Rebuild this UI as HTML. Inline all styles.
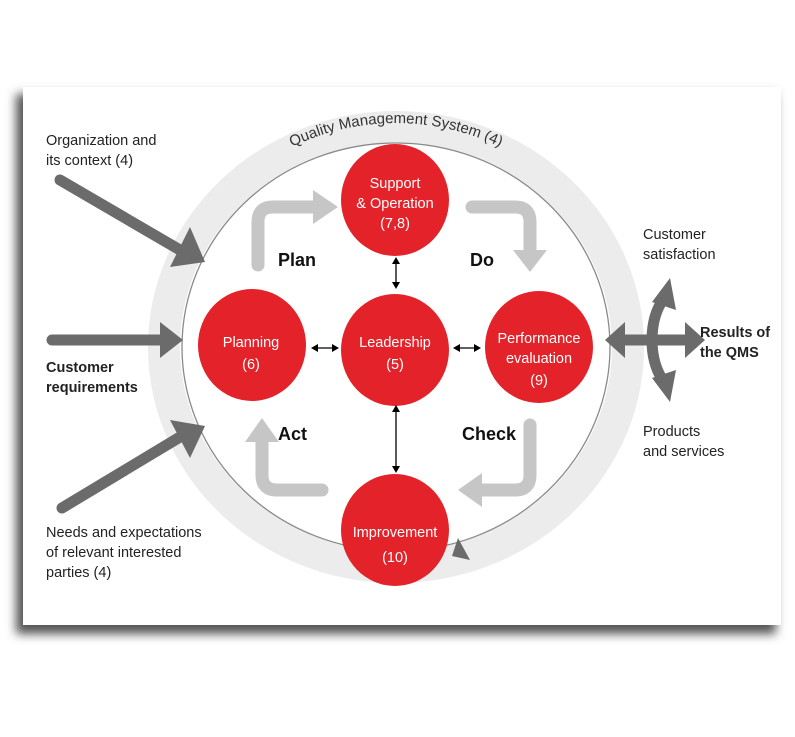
<!DOCTYPE html>
<html><head><meta charset="utf-8"><style>
html,body{margin:0;padding:0;background:#fff;width:795px;height:737px;overflow:hidden}
svg{display:block;font-family:"Liberation Sans",sans-serif}
</style></head><body>
<svg width="795" height="737" viewBox="0 0 795 737">
<defs>
<filter id="sh" x="-10%" y="-10%" width="120%" height="130%"><feGaussianBlur stdDeviation="5"/></filter>
<path id="arcp" d="M 165 345 A 231 222 0 0 1 627 345"/>
</defs>
<rect x="16" y="94" width="760" height="540" fill="#555" filter="url(#sh)"/>
<rect x="23" y="87" width="758" height="538" fill="#fff"/>
<!-- ring -->
<ellipse cx="396" cy="347" rx="232" ry="220" fill="none" stroke="#ececed" stroke-width="32"/>
<ellipse cx="396" cy="347" rx="214" ry="204" fill="none" stroke="#8a8a8a" stroke-width="1.3"/>
<text font-size="15" fill="#333"><textPath href="#arcp" startOffset="50%" text-anchor="middle">Quality Management System (4)</textPath></text>
<!-- light gray PDCA arrows -->
<g fill="none" stroke="#c6c6c6" stroke-width="13" stroke-linecap="round">
<path d="M258 265 V222 Q258 207 273 207 H315"/>
<path d="M472 207 H515 Q530 207 530 222 V250"/>
<path d="M530 425 V475 Q530 490 515 490 H480"/>
<path d="M322 490 H277 Q262 490 262 475 V440"/>
</g>
<g fill="#c6c6c6">
<polygon points="313,190 338,207 313,224"/>
<polygon points="513,250 547,250 530,272"/>
<polygon points="482,473 482,507 458,490"/>
<polygon points="245,442 279,442 262,418"/>
</g>
<!-- dark gray input arrows -->
<g stroke="#6b6b6b" stroke-width="11" stroke-linecap="round" fill="none">
<line x1="60" y1="180" x2="180" y2="250"/>
<line x1="52" y1="340" x2="160" y2="340"/>
<line x1="62" y1="508" x2="180" y2="437"/>
<line x1="625" y1="340" x2="685" y2="340"/>
<path d="M652 340 Q652 315 664 298"/>
<path d="M652 340 Q652 365 664 382"/>
</g>
<g fill="#6b6b6b">
<polygon points="190,227 205,262 170,267"/>
<polygon points="160,322 183,340 160,358"/>
<polygon points="170,420 205,426 190,458"/>
<polygon points="625,322 605,340 625,358"/>
<polygon points="685,322 705,340 685,358"/>
<polygon points="652,302 670,278 676,310"/>
<polygon points="652,378 670,402 676,370"/>
<polygon points="458,538 452,556 470,560"/>
</g>
<!-- red circles -->
<g fill="#e3222a">
<ellipse cx="395" cy="200" rx="54" ry="56"/>
<ellipse cx="395" cy="350" rx="54" ry="56"/>
<ellipse cx="252" cy="345" rx="54" ry="56"/>
<ellipse cx="539" cy="347" rx="54" ry="56"/>
<ellipse cx="395" cy="530" rx="54" ry="56"/>
</g>
<!-- black small arrows -->
<g stroke="#000" stroke-width="1.3">
<line x1="396" y1="262" x2="396" y2="284"/>
<line x1="396" y1="410" x2="396" y2="468"/>
<line x1="316" y1="348" x2="334" y2="348"/>
<line x1="458" y1="348" x2="476" y2="348"/>
</g>
<g fill="#000">
<polygon points="392,264 400,264 396,257"/><polygon points="392,282 400,282 396,289"/>
<polygon points="392,412 400,412 396,405"/><polygon points="392,466 400,466 396,473"/>
<polygon points="318,344 318,352 311,348"/><polygon points="332,344 332,352 339,348"/>
<polygon points="460,344 460,352 453,348"/><polygon points="474,344 474,352 481,348"/>
</g>
<!-- circle labels -->
<g fill="#fff" font-size="14.5" text-anchor="middle">
<text x="395" y="188">Support</text><text x="395" y="208">&amp; Operation</text><text x="395" y="228">(7,8)</text>
<text x="395" y="347">Leadership</text><text x="395" y="369">(5)</text>
<text x="251" y="347">Planning</text><text x="251" y="369">(6)</text>
<text x="539" y="343">Performance</text><text x="539" y="363">evaluation</text><text x="539" y="385">(9)</text>
<text x="395" y="537">Improvement</text><text x="395" y="562">(10)</text>
</g>
<g font-size="18" font-weight="bold" fill="#111">
<text x="278" y="266">Plan</text><text x="470" y="266">Do</text>
<text x="278" y="440">Act</text><text x="462" y="440">Check</text>
</g>
<g font-size="14.5" fill="#222">
<text x="46" y="145">Organization and</text><text x="46" y="165">its context (4)</text>
<text x="46" y="372" font-weight="bold">Customer</text><text x="46" y="392" font-weight="bold">requirements</text>
<text x="46" y="537">Needs and expectations</text><text x="46" y="557">of relevant interested</text><text x="46" y="577">parties (4)</text>
<text x="643" y="239">Customer</text><text x="643" y="259">satisfaction</text>
<text x="700" y="337" font-weight="bold">Results of</text><text x="700" y="357" font-weight="bold">the QMS</text>
<text x="643" y="436">Products</text><text x="643" y="456">and services</text>
</g>
</svg>
</body></html>
